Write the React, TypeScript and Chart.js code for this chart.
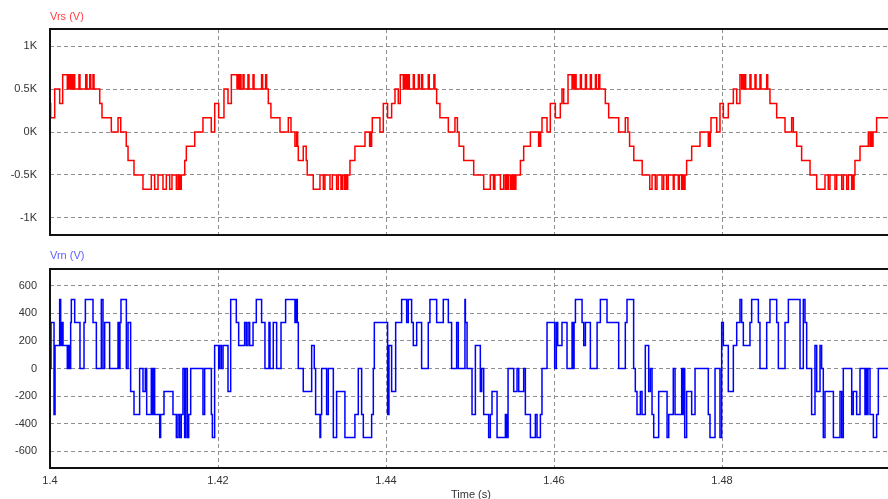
import React, { useEffect, useRef } from "react";
import { Chart, registerables } from "chart.js";

Chart.register(...registerables);

// ---- data (time in ms after 1.4 s, level = number of 166.7 V steps) ----
const timeOriginS = 1.4;
const vrsStepV = 166.7;
const vrnStepV = 166.7;
const xTicks = [1.4, 1.42, 1.44, 1.46, 1.48, 1.5];
const vrsTicks = [-1000, -500, 0, 500, 1000];
const vrnTicks = [-600, -400, -200, 0, 200, 400, 600];

const vrsCycle1 = [
  [0, 0], [0.08, 2], [0.56, 1], [1.15, 3], [1.51, 2], [2.06, 4], [2.14, 3], [2.23, 4], [2.31, 3], [2.38, 4],
  [2.46, 3], [2.55, 4], [2.62, 3], [2.74, 4], [2.86, 3], [2.94, 4], [3.45, 3], [3.57, 4], [4.25, 3], [4.40, 4],
  [4.73, 3], [4.85, 4], [5.12, 3], [5.24, 4], [5.92, 3], [6.19, 2], [7.30, 1], [8.10, 0], [8.42, 1], [9.08, 0],
  [9.29, -1], [10.0, -2], [11.07, -3], [12.06, -4], [12.46, -3], [12.86, -4], [13.45, -3], [13.85, -4], [14.25, -3],
  [14.52, -4], [15.04, -3], [15.24, -4], [15.32, -3], [15.44, -4], [15.54, -3], [15.63, -4], [16.04, -3], [16.23, -2],
  [17.23, -1], [18.21, 0], [19.20, 1], [19.61, 0],
];
const vrsCycle2 = [
  [20.08, 2], [20.71, 1], [21.19, 3], [21.59, 2], [22.26, 4], [22.34, 3], [22.42, 4], [22.50, 3], [22.58, 4], [22.66, 3],
  [22.74, 4], [22.98, 3], [23.10, 4], [23.57, 3], [23.69, 4], [24.17, 3], [24.29, 4], [25.19, 3], [25.31, 4], [25.67, 3],
  [25.79, 4], [25.99, 3], [26.30, 2], [27.38, 1], [28.37, 0], [28.69, 1], [29.16, 0], [29.36, -1], [29.48, 0], [29.56, -1],
  [30.15, -2], [30.50, -1], [30.62, -2], [31.34, -3], [32.14, -4], [32.54, -3], [32.73, -4], [33.33, -3], [33.61, -4],
  [34.12, -3], [34.32, -4], [34.64, -3], [34.80, -4], [35.03, -3], [35.20, -4], [35.32, -3], [35.44, -4], [35.71, -3],
  [36.30, -2], [37.50, -1], [38.05, 0], [38.13, -1], [38.21, 0], [38.29, -1], [38.37, 0], [39.28, 1], [39.68, 0],
];
const vrsCycle3 = [
  [40.19, 2], [40.67, 1], [41.07, 2], [41.46, 3], [41.70, 2], [42.06, 4], [42.14, 3], [42.22, 4], [42.30, 3], [42.38, 4],
  [42.46, 3], [42.54, 4], [42.70, 3], [42.78, 4], [43.25, 3], [43.37, 4], [43.85, 3], [43.97, 4], [44.24, 3], [44.36, 4],
  [45.03, 3], [45.15, 4], [45.70, 3], [45.82, 4], [46.03, 3], [46.42, 2], [47.42, 1], [48.21, 0], [48.50, 1], [48.70, 0],
  [49.25, -1], [50.44, -2], [51.63, -3], [52.42, -4], [52.80, -3], [52.96, -4], [53.62, -3], [54.01, -4], [54.21, -3],
  [54.33, -4], [54.45, -3], [54.57, -4], [54.81, -3], [54.93, -4], [55.10, -3], [55.22, -4], [55.34, -3], [55.46, -4],
  [56.00, -3], [56.39, -2], [57.19, -1], [58.17, 0], [58.25, -1], [58.33, 0], [58.41, -1], [58.57, 0], [59.17, 1], [59.56, 0],
];
const vrsCycle4 = [
  [60.16, 2], [60.75, 1], [60.95, 2], [61.15, 3], [61.67, 2], [62.15, 4], [62.23, 3], [62.31, 4], [62.39, 3], [62.47, 4],
  [62.55, 3], [62.63, 4], [63.14, 3], [63.26, 4], [63.74, 3], [63.86, 4], [64.33, 3], [64.45, 4], [64.93, 3], [65.05, 4],
  [65.33, 3], [65.45, 4], [66.11, 3], [66.51, 2], [67.70, 1], [68.49, 0], [68.80, 1], [69.00, 0], [69.50, -1], [70.50, -2],
  [71.40, -3], [71.67, -4], [72.06, -3], [72.26, -4], [72.86, -3], [73.06, -4], [73.40, -3], [73.60, -4], [74.20, -3],
  [74.30, -4], [74.80, -3], [74.92, -4], [75.20, -3], [75.28, -4], [75.36, -3], [75.44, -4], [75.52, -3], [75.60, -4],
  [75.79, -3], [76.39, -2], [77.38, -1], [78.37, 0], [78.45, -1], [78.53, 0], [78.61, -1], [78.69, 0], [79.37, 1], [79.76, 0],
];
const vrsCycle5 = [
  [80.16, 2], [80.75, 1], [81.35, 2], [81.75, 3], [82.14, 2], [82.34, 4], [82.42, 3], [82.50, 4], [82.58, 3], [82.66, 4],
  [82.74, 3], [82.82, 4], [83.33, 3], [83.45, 4], [83.93, 3], [84.05, 4], [84.52, 3], [84.64, 4], [85.32, 3], [85.44, 4],
  [85.71, 3], [86.51, 2], [87.50, 1], [88.29, 0], [88.49, 1], [88.89, 0], [89.48, -1], [90.48, -2], [91.27, -3],
  [92.26, -4], [92.65, -3], [92.85, -4], [93.45, -3], [93.65, -4], [94.25, -3], [94.45, -4], [94.85, -3], [95.05, -4],
  [95.44, -3], [95.56, -4], [95.64, -3], [95.72, -4], [95.83, -3], [96.43, -2], [97.42, -1], [97.62, 0], [97.74, -1],
  [97.86, 0], [97.98, -1], [98.41, 0], [99.40, 1], [100, 1],
];

const vrnCycle1 = [
  [0, 2], [0.12, 0], [0.48, 2], [0.60, -2], [1.15, 1], [1.27, 3], [1.43, 1], [1.55, 2], [2.06, 1], [2.14, 0],
  [2.22, 1], [2.30, 0], [2.38, 1], [2.46, 0], [2.54, 2], [2.94, 3], [3.57, 2], [4.05, 0], [4.21, 2], [5.12, 3],
  [5.52, 2], [6.11, 0], [6.31, 3], [6.51, 0], [7.10, 2], [8.10, 0], [8.21, 2], [8.33, 0], [8.45, 2], [9.09, 3],
  [9.29, 0], [9.60, 2], [10.0, -1], [10.67, -2], [11.07, 0], [11.35, -1], [11.51, 0], [12.06, -2], [12.18, 0],
  [12.30, -2], [12.46, 0], [13.06, -2], [13.17, -3], [13.57, -2], [14.64, -1], [15.04, -2], [15.24, -3], [15.44, -2],
  [15.63, -3], [15.83, -2], [16.03, 0], [16.15, -3], [16.35, 0], [16.51, -3], [16.75, -2], [18.21, 0], [18.41, -2],
  [19.21, 0], [19.33, -2], [19.60, -3],
];
const vrnCycle2 = [
  [20.08, 1], [20.20, 0], [20.40, 1], [20.60, 0], [21.19, 1], [21.51, -1], [22.18, 3], [22.46, 2], [23.17, 1],
  [23.37, 2], [23.57, 1], [23.77, 2], [24.17, 1], [24.56, 2], [25.19, 3], [25.59, 2], [26.07, 0], [26.19, 2],
  [26.58, 0], [26.98, 2], [27.50, 0], [28.05, 2], [29.16, 3], [29.32, 2], [29.44, 3], [29.56, 2], [30.15, 0],
  [31.15, -1], [31.46, 1], [31.62, 0], [32.14, -2], [32.22, -3], [32.34, -2], [32.93, 0], [33.13, -2], [33.73, 0],
  [34.12, -3], [35.11, -1], [36.30, -3], [36.70, -2], [37.10, 0], [37.30, -2], [38.29, -3], [38.49, -2], [38.61, 0],
];
const vrnCycle3 = [
  [40.19, 2], [40.35, -2], [40.67, 1], [41.15, -1], [41.86, 2], [42.46, 3], [42.65, 2], [43.05, 3], [43.25, 2],
  [43.65, 1], [44.24, 2], [45.03, 0], [45.23, 2], [46.03, 3], [46.82, 2], [47.42, 3], [47.81, 2], [48.41, 0],
  [48.61, 2], [49.40, 0], [49.45, 3], [49.65, 2], [50.24, 0], [50.64, -2], [51.23, 1], [51.39, -1], [51.63, 0],
  [52.22, -2], [52.42, -3], [52.62, -2], [53.22, -1], [54.21, -3], [54.37, -2], [54.53, -3], [55.20, 0], [55.60, -1],
  [55.80, 0], [56.39, -1], [56.59, 0], [57.19, -2], [57.78, -3], [57.98, -2], [58.38, -3], [58.57, -2], [59.17, 0],
];
const vrnCycle4 = [
  [60.08, 2], [60.28, 0], [60.44, 2], [60.95, 1], [61.55, 2], [62.15, 0], [62.27, 2], [62.39, 0], [62.55, 2],
  [63.34, 3], [63.54, 2], [63.74, 1], [64.33, 2], [65.13, 0], [65.52, 2], [66.31, 3], [67.70, 2], [68.49, 0],
  [68.69, 2], [69.48, 3], [69.68, 0], [69.88, -1], [70.28, -2], [70.48, -1], [70.87, -2], [71.27, 1], [71.47, -1],
  [71.67, 0], [71.87, -2], [72.46, -3], [73.46, -1], [73.66, -3], [74.20, -2], [74.41, 0], [75.20, -2], [75.32, 0],
  [75.44, -2], [75.56, 0], [75.79, -3], [76.39, -1], [76.79, -2], [78.37, 0], [78.57, -2], [79.17, -3], [79.76, 0],
  [79.96, -3],
];
const vrnCycle5 = [
  [80.16, 2], [80.75, 1], [81.35, -1], [81.75, 1], [82.14, 2], [82.34, 3], [82.54, 2], [83.33, 1], [83.53, 2],
  [84.33, 3], [84.52, 2], [85.32, 0], [85.71, 2], [86.51, 3], [86.71, 2], [87.50, 0], [87.90, 2], [89.29, 3],
  [89.68, 0], [89.88, 3], [90.08, 2], [90.67, 0], [91.07, -2], [91.27, 1], [91.67, -1], [91.86, 1], [92.06, 0],
  [92.26, -3], [93.26, -1], [94.05, -3], [94.25, -1], [94.44, -3], [95.44, 0], [95.63, -2], [96.03, -1], [96.43, -2],
  [97.02, 0], [97.14, -2], [97.26, 0], [97.38, -2], [97.62, 0], [98.02, -2], [98.41, -3], [98.61, -2], [99.40, 0],
  [100, 0],
];

const vrsCycles = [vrsCycle1, vrsCycle2, vrsCycle3, vrsCycle4, vrsCycle5];
const vrnCycles = [vrnCycle1, vrnCycle2, vrnCycle3, vrnCycle4, vrnCycle5];

// ---- helpers ----
const FONT = "'Liberation Sans', Arial, sans-serif";

function toPoints(cycles: number[][][], stepV: number) {
  const pts: { x: number; y: number }[] = [];
  cycles.forEach((c) => c.forEach(([ms, lvl]) => pts.push({ x: timeOriginS + ms / 1000, y: lvl * stepV })));
  return pts;
}

const framePlugin = {
  id: "frame",
  afterDraw(chart: any) {
    const { ctx, chartArea: a } = chart;
    ctx.save();
    ctx.strokeStyle = "#111";
    ctx.lineWidth = 2;
    ctx.strokeRect(a.left, a.top, a.right - a.left, a.bottom - a.top);
    ctx.restore();
  },
};

function makeConfig(opts: {
  points: { x: number; y: number }[];
  color: string;
  yMax: number;
  yTicks: number[];
  yLabel: (v: number) => string;
  showX: boolean;
  padBottom: number;
  xHeight: number;
}): any {
  return {
    type: "line",
    data: {
      datasets: [
        {
          data: opts.points,
          borderColor: opts.color,
          borderWidth: 1.5,
          pointRadius: 0,
          stepped: "after",
          tension: 0,
          fill: false,
        },
      ],
    },
    plugins: [framePlugin],
    options: {
      responsive: false,
      animation: false,
      parsing: false,
      devicePixelRatio: 1,
      layout: { padding: { top: 29, right: 1, bottom: opts.padBottom, left: 0 } },
      plugins: { legend: { display: false }, tooltip: { enabled: false }, title: { display: false } },
      scales: {
        x: {
          type: "linear",
          min: 1.4,
          max: 1.5,
          afterBuildTicks: (s: any) => {
            s.ticks = xTicks.map((v) => ({ value: v }));
          },
          afterFit: (s: any) => {
            s.height = opts.xHeight;
            s.paddingLeft = 0;
            s.paddingRight = 0;
            s.paddingTop = 0;
            s.paddingBottom = 0;
          },
          grid: { color: "#8f8f8f", lineWidth: 1, drawTicks: false },
          border: { display: false, dash: [4, 3] },
          ticks: {
            display: opts.showX,
            padding: 6,
            maxRotation: 0,
            autoSkip: false,
            color: "#333",
            font: { family: FONT, size: 11 },
            callback: (v: number) => (v >= 1.499 ? "" : String(Number(v.toFixed(2)))),
          },
        },
        y: {
          type: "linear",
          min: -opts.yMax,
          max: opts.yMax,
          afterBuildTicks: (s: any) => {
            s.ticks = opts.yTicks.map((v) => ({ value: v }));
          },
          afterFit: (s: any) => {
            s.width = 50;
            s.paddingLeft = 0;
            s.paddingRight = 0;
            s.paddingTop = 0;
            s.paddingBottom = 0;
          },
          grid: { color: "#8f8f8f", lineWidth: 1, drawTicks: false },
          border: { display: false, dash: [4, 3] },
          ticks: {
            padding: 13,
            color: "#333",
            font: { family: FONT, size: 11 },
            callback: (v: number) => opts.yLabel(v),
          },
        },
      },
    },
  };
}

export default function App() {
  const topRef = useRef<HTMLCanvasElement | null>(null);
  const botRef = useRef<HTMLCanvasElement | null>(null);

  useEffect(() => {
    const top = new Chart(
      topRef.current as HTMLCanvasElement,
      makeConfig({
        points: toPoints(vrsCycles, vrsStepV),
        color: "#ff0000",
        yMax: 1200,
        yTicks: vrsTicks,
        yLabel: (v) => `${v / 1000}K`,
        showX: false,
        padBottom: 5,
        xHeight: 0,
      })
    );
    const bot = new Chart(
      botRef.current as HTMLCanvasElement,
      makeConfig({
        points: toPoints(vrnCycles, vrnStepV),
        color: "#0000ff",
        yMax: 720,
        yTicks: vrnTicks,
        yLabel: (v) => String(v),
        showX: true,
        padBottom: 0,
        xHeight: 31,
      })
    );
    return () => {
      top.destroy();
      bot.destroy();
    };
  }, []);

  const label: React.CSSProperties = {
    position: "absolute",
    fontFamily: FONT,
    fontSize: 11,
    lineHeight: "13px",
    whiteSpace: "nowrap",
  };

  return (
    <div
      style={{
        position: "fixed",
        left: 0,
        top: 0,
        width: 888,
        height: 499,
        overflow: "hidden",
        background: "#fff",
      }}
    >
      <canvas ref={topRef} width={891} height={240} style={{ position: "absolute", left: 0, top: 0 }} />
      <canvas ref={botRef} width={891} height={259} style={{ position: "absolute", left: 0, top: 240 }} />
      <div style={{ ...label, left: 50, top: 10, color: "#ff4040" }}>Vrs (V)</div>
      <div style={{ ...label, left: 50, top: 249, color: "#6060ff" }}>Vrn (V)</div>
      <div style={{ ...label, left: 451, top: 488, color: "#333" }}>Time (s)</div>
    </div>
  );
}
